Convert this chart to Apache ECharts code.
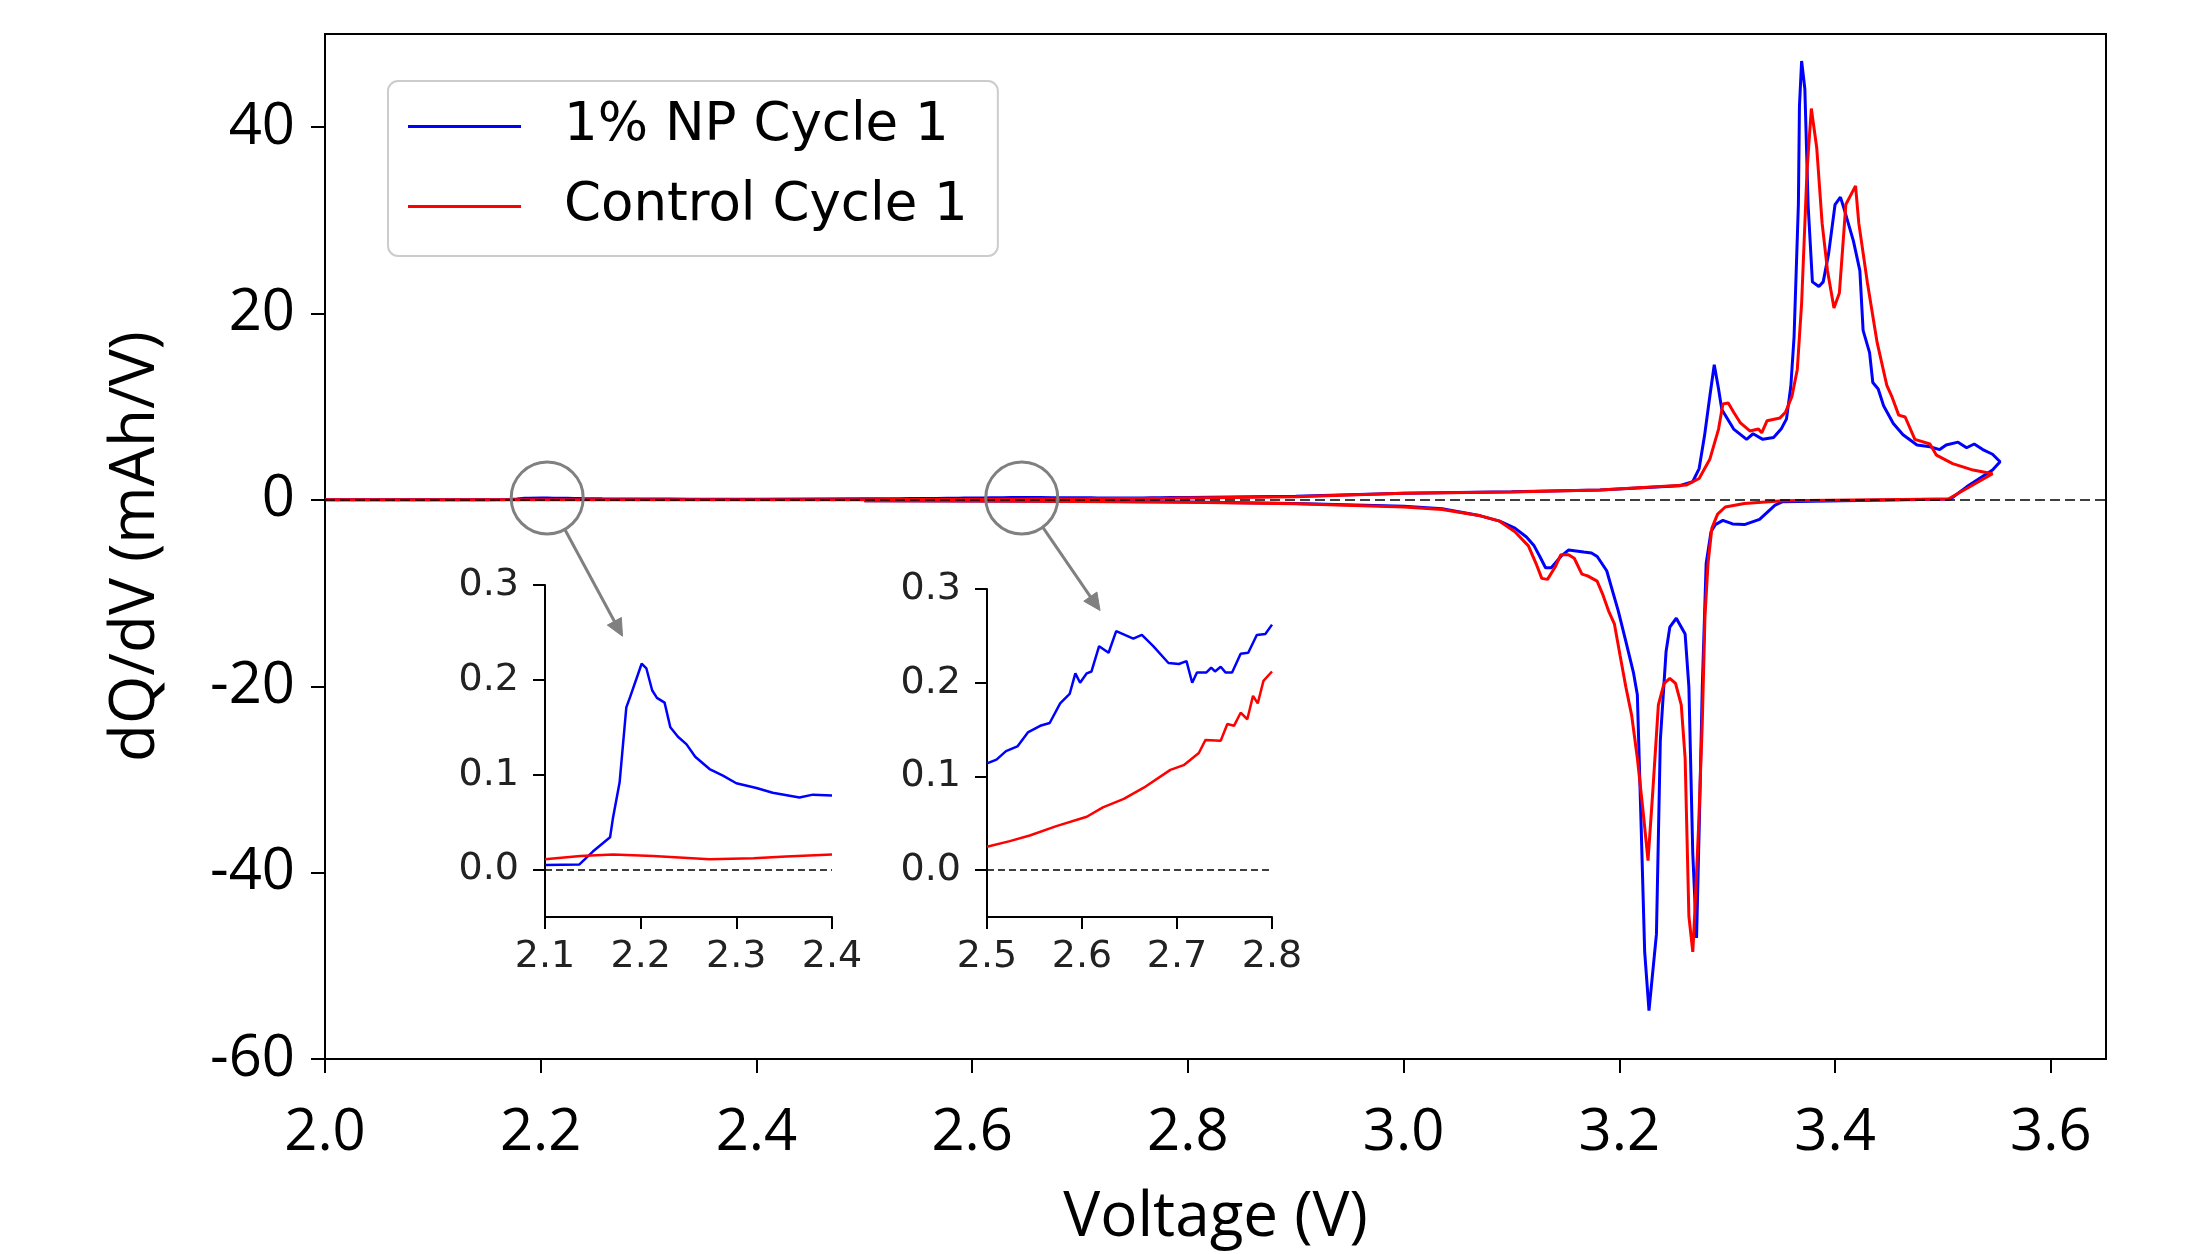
<!DOCTYPE html>
<html><head><meta charset="utf-8">
<script src="https://cdn.jsdelivr.net/npm/echarts@6/dist/echarts.min.js"></script>
<style>html,body{margin:0;padding:0;background:#fff}#c{width:2196px;height:1254px}</style>
</head><body><div id="c"></div>
<script>
// ---- tick labels ----
const xTicks = [2.0, 2.2, 2.4, 2.6, 2.8, 3.0, 3.2, 3.4, 3.6];
const yTicks = [-60, -40, -20, 0, 20, 40];
const insetAXTicks = [2.1, 2.2, 2.3, 2.4];
const insetBXTicks = [2.5, 2.6, 2.7, 2.8];
const insetYTicks = [0.0, 0.1, 0.2, 0.3];
const seriesNames = ['1% NP Cycle 1', 'Control Cycle 1'];

// ---- 1% NP, charge branch ----
const npChargeStart = [[2.0, 0.004]];
const npInsetA = [[2.100,0.0047],[2.136,0.0054],[2.150,0.019],[2.168,0.034],[2.171,0.054],[2.178,0.092],[2.185,0.171],[2.189,0.182],[2.201,0.217],[2.206,0.212],[2.212,0.189],[2.217,0.181],[2.225,0.176],[2.231,0.150],[2.239,0.140],[2.248,0.132],[2.257,0.119],[2.272,0.106],[2.286,0.099],[2.300,0.091],[2.321,0.086],[2.338,0.081],[2.366,0.076],[2.380,0.079],[2.400,0.078]];
const npInsetB = [[2.500,0.114],[2.510,0.118],[2.520,0.127],[2.532,0.132],[2.543,0.147],[2.556,0.154],[2.566,0.157],[2.577,0.178],[2.587,0.188],[2.593,0.210],[2.598,0.200],[2.605,0.210],[2.610,0.212],[2.618,0.239],[2.628,0.232],[2.636,0.255],[2.654,0.247],[2.663,0.251],[2.675,0.239],[2.691,0.221],[2.702,0.220],[2.710,0.223],[2.716,0.200],[2.721,0.211],[2.731,0.211],[2.736,0.216],[2.740,0.212],[2.746,0.217],[2.751,0.211],[2.758,0.211],[2.767,0.231],[2.775,0.232],[2.784,0.251],[2.793,0.252],[2.800,0.262]];
const npChargeHigh = [[2.9,0.40],[3.0,0.72],[3.1,0.88],[3.182,1.06],[3.256,1.52],[3.268,1.95],[3.274,3.36],[3.279,6.9],[3.284,11.2],[3.288,14.5],[3.292,11.9],[3.295,9.7],[3.306,7.6],[3.318,6.5],[3.324,7.1],[3.333,6.5],[3.343,6.7],[3.350,7.6],[3.355,8.7],[3.359,12.2],[3.362,17.5],[3.366,31.7],[3.367,42.3],[3.369,47.1],[3.372,44.1],[3.375,31.7],[3.379,23.4],[3.385,22.9],[3.389,23.4],[3.394,26.4],[3.400,31.7],[3.405,32.5],[3.409,31.0],[3.417,27.8],[3.423,24.6],[3.426,18.2],[3.432,15.8],[3.435,12.6],[3.440,11.9],[3.445,10.1],[3.454,8.2],[3.463,7.0],[3.476,5.9],[3.488,5.7],[3.497,5.4],[3.503,5.9],[3.514,6.2],[3.522,5.6],[3.529,6.0],[3.537,5.4],[3.546,4.9],[3.553,4.1],[3.546,3.2],[3.522,1.4],[3.507,0.1]];
// ---- 1% NP, discharge branch ----
const npDischarge = [[3.3515,-0.19],[3.3444,-0.57],[3.330,-2.09],[3.316,-2.65],[3.305,-2.58],[3.296,-2.2],[3.289,-2.65],[3.285,-3.41],[3.2805,-6.83],[3.2769,-20.1],[3.2741,-35.0],[3.2716,-47.0],[3.2681,-38.0],[3.2645,-20.1],[3.261,-14.4],[3.2528,-12.7],[3.2468,-13.65],[3.2433,-16.3],[3.238,-25.8],[3.2344,-46.6],[3.2275,-54.8],[3.2235,-48.5],[3.2203,-35.3],[3.2167,-20.9],[3.2132,-18.6],[3.2061,-15.2],[3.199,-11.9],[3.1883,-7.6],[3.1795,-6.07],[3.1742,-5.69],[3.167,-5.6],[3.1617,-5.5],[3.1528,-5.38],[3.1458,-6.07],[3.1369,-7.28],[3.1316,-7.28],[3.1263,-6.07],[3.121,-4.93],[3.1139,-3.98],[3.1032,-3.03],[3.089,-2.28],[3.0713,-1.71],[3.0358,-0.95],[3.0003,-0.68],[2.9,-0.38],[2.8,-0.22],[2.7,-0.15],[2.6,-0.12],[2.5,-0.10]];

// ---- Control, charge branch ----
const ctlChargeStart = [[2.0, 0.010]];
const ctlInsetA = [[2.100,0.011],[2.137,0.0144],[2.171,0.016],[2.213,0.0144],[2.272,0.011],[2.318,0.012],[2.352,0.0137],[2.400,0.016]];
const ctlInsetB = [[2.500,0.025],[2.524,0.031],[2.545,0.037],[2.573,0.047],[2.605,0.057],[2.622,0.067],[2.644,0.076],[2.665,0.088],[2.693,0.107],[2.707,0.112],[2.723,0.125],[2.730,0.139],[2.746,0.138],[2.753,0.156],[2.760,0.154],[2.767,0.168],[2.774,0.161],[2.780,0.186],[2.785,0.178],[2.791,0.202],[2.800,0.212]];
const ctlChargeHigh = [[2.9,0.35],[3.0,0.72],[3.1,0.85],[3.182,1.06],[3.262,1.59],[3.274,2.3],[3.284,4.4],[3.292,7.6],[3.296,10.3],[3.301,10.4],[3.306,9.4],[3.312,8.3],[3.321,7.4],[3.329,7.6],[3.332,7.2],[3.337,8.5],[3.349,8.8],[3.354,9.4],[3.360,11.1],[3.365,14.0],[3.369,21.1],[3.374,35.3],[3.378,42.0],[3.383,37.8],[3.388,29.7],[3.393,24.6],[3.399,20.6],[3.404,22.2],[3.410,31.7],[3.419,33.7],[3.422,29.7],[3.430,23.3],[3.439,16.9],[3.448,12.3],[3.453,11.0],[3.459,9.1],[3.465,8.9],[3.474,6.5],[3.488,6.0],[3.494,4.8],[3.509,3.9],[3.528,3.2],[3.546,2.8],[3.505,0.1]];
// ---- Control, discharge branch ----
const ctlDischarge = [[3.3515,-0.08],[3.3159,-0.38],[3.2982,-0.76],[3.2911,-1.52],[3.2858,-3.03],[3.2822,-6.83],[3.2794,-12.5],[3.2769,-23.9],[3.2734,-35.3],[3.2698,-44.7],[3.2681,-48.5],[3.2645,-44.7],[3.261,-27.7],[3.2574,-22.0],[3.2521,-19.7],[3.2468,-19.15],[3.2415,-19.7],[3.2362,-22.0],[3.2309,-31.5],[3.2266,-38.7],[3.222,-33.4],[3.2167,-27.7],[3.2114,-23.1],[3.2061,-20.1],[3.2007,-16.7],[3.1954,-13.3],[3.19,-11.9],[3.1848,-10.2],[3.1794,-8.72],[3.1706,-8.15],[3.1653,-7.96],[3.1582,-6.26],[3.1529,-5.88],[3.1458,-5.88],[3.1405,-7.2],[3.1334,-8.53],[3.1281,-8.42],[3.1228,-6.83],[3.1157,-4.93],[3.1032,-3.41],[3.089,-2.28],[3.0713,-1.71],[3.0358,-1.02],[3.0003,-0.76],[2.9,-0.42],[2.8,-0.24],[2.7,-0.16],[2.6,-0.12],[2.5,-0.10]];

// circled regions (data coords in main axes) and arrow tips (data coords in insets)
const zoomCentres = [[2.206, 0], [2.646, 0]];
const arrowTips = [[2.181, 0.246], [2.619, 0.277]];

const npMain = [].concat(npChargeStart, npInsetA, npInsetB, npChargeHigh, npDischarge);
const ctlMain = [].concat(ctlChargeStart, ctlInsetA, ctlInsetB, ctlChargeHigh, ctlDischarge);

const BLUE = '#0000ff', RED = '#ff0000';
const mainFont = 'Open Sans';
const smallFont = 'DejaVu Sans';

function zeroLine(width, dash) {
  return { silent: true, symbol: 'none', label: { show: false },
    lineStyle: { color: '#000', width: width, type: dash }, data: [{ yAxis: 0 }] };
}
function insetX(idx, ticks, min, max) {
  return { type: 'value', gridIndex: idx, min: min, max: max,
    axisLine: { show: true, onZero: false, lineStyle: { color: '#000', width: 2 } },
    axisTick: { show: true, length: 12, customValues: ticks, lineStyle: { color: '#000', width: 2 } },
    axisLabel: { customValues: ticks, margin: 21, fontFamily: smallFont, fontSize: 38, color: '#222',
      formatter: v => v.toFixed(1) },
    splitLine: { show: false } };
}
function insetY(idx) {
  return { type: 'value', gridIndex: idx, min: -0.05, max: 0.3,
    axisLine: { show: true, onZero: false, lineStyle: { color: '#000', width: 2 } },
    axisTick: { show: true, length: 12, customValues: insetYTicks, lineStyle: { color: '#000', width: 2 } },
    axisLabel: { customValues: insetYTicks, margin: 26, fontFamily: smallFont, fontSize: 38, color: '#222',
      formatter: v => v.toFixed(1) },
    splitLine: { show: false } };
}

const chart = echarts.init(document.getElementById('c'), null, { renderer: 'canvas' });
chart.setOption({
  animation: false,
  backgroundColor: '#fff',
  grid: [
    { left: 325, top: 34, right: 90, bottom: 183, show: true, borderColor: '#000', borderWidth: 2 },
    { left: 545, top: 585, width: 287, height: 332 },
    { left: 987, top: 589, width: 285, height: 328 }
  ],
  legend: {
    data: seriesNames, left: 388, top: 81, orient: 'vertical',
    padding: [13, 30, 17, 20], itemGap: 15, itemWidth: 113, itemHeight: 3, icon: 'rect',
    backgroundColor: 'rgba(255,255,255,0.85)', borderColor: '#cccccc', borderWidth: 2, borderRadius: 10,
    textStyle: { fontFamily: smallFont, fontSize: 53, color: '#000', lineHeight: 53, padding: [12, 0, 0, 38] }
  },
  xAxis: [
    { type: 'value', gridIndex: 0, min: 2.0, max: 3.6512,
      name: 'Voltage (V)', nameLocation: 'middle', nameGap: 128,
      nameTextStyle: { fontFamily: mainFont, fontSize: 62, color: '#000' },
      axisLine: { show: true, onZero: false, lineStyle: { color: '#000', width: 2 } },
      axisTick: { show: true, length: 14, customValues: xTicks, lineStyle: { color: '#000', width: 2 } },
      axisLabel: { customValues: xTicks, margin: 45, fontFamily: mainFont, fontSize: 58, color: '#000',
        formatter: v => v.toFixed(1) },
      splitLine: { show: false } },
    insetX(1, insetAXTicks, 2.1, 2.4),
    insetX(2, insetBXTicks, 2.5, 2.8)
  ],
  yAxis: [
    { type: 'value', gridIndex: 0, min: -60, max: 50,
      name: 'dQ/dV (mAh/V)', nameLocation: 'middle', nameGap: 158, nameRotate: 90,
      nameTextStyle: { fontFamily: mainFont, fontSize: 62, color: '#000' },
      axisLine: { show: true, onZero: false, lineStyle: { color: '#000', width: 2 } },
      axisTick: { show: true, length: 14, customValues: yTicks, lineStyle: { color: '#000', width: 2 } },
      axisLabel: { customValues: yTicks, margin: 30, fontFamily: mainFont, fontSize: 58, color: '#000',
        formatter: v => String(v) },
      splitLine: { show: false } },
    insetY(1),
    insetY(2)
  ],
  series: [
    { name: seriesNames[0], type: 'line', xAxisIndex: 0, yAxisIndex: 0, data: npMain,
      showSymbol: false, symbol: 'none', color: BLUE, lineStyle: { color: BLUE, width: 3 }, z: 2 },
    { name: seriesNames[1], type: 'line', xAxisIndex: 0, yAxisIndex: 0, data: ctlMain,
      showSymbol: false, symbol: 'none', color: RED, lineStyle: { color: RED, width: 3 }, z: 3,
      markLine: zeroLine(1.6, [10, 5]) },
    { name: seriesNames[0], type: 'line', xAxisIndex: 1, yAxisIndex: 1, data: npInsetA,
      showSymbol: false, symbol: 'none', color: BLUE, lineStyle: { color: BLUE, width: 2.5 }, z: 2 },
    { name: seriesNames[1], type: 'line', xAxisIndex: 1, yAxisIndex: 1, data: ctlInsetA,
      showSymbol: false, symbol: 'none', color: RED, lineStyle: { color: RED, width: 2.5 }, z: 3,
      markLine: zeroLine(1.6, [7, 4]) },
    { name: seriesNames[0], type: 'line', xAxisIndex: 2, yAxisIndex: 2, data: npInsetB,
      showSymbol: false, symbol: 'none', color: BLUE, lineStyle: { color: BLUE, width: 2.5 }, z: 2 },
    { name: seriesNames[1], type: 'line', xAxisIndex: 2, yAxisIndex: 2, data: ctlInsetB,
      showSymbol: false, symbol: 'none', color: RED, lineStyle: { color: RED, width: 2.5 }, z: 3,
      markLine: zeroLine(1.6, [7, 4]) }
  ]
});

// annotation circles + arrows, placed through the axes' own scales
const GREY = '#808080';
const graphics = [];
zoomCentres.forEach((c, i) => {
  const p = chart.convertToPixel({ xAxisIndex: 0, yAxisIndex: 0 }, c);
  const t = chart.convertToPixel({ xAxisIndex: i + 1, yAxisIndex: i + 1 }, arrowTips[i]);
  const cx = p[0], cy = p[1] - 2;
  graphics.push({ type: 'circle', shape: { cx: cx, cy: cy, r: 36 }, z: 20,
    style: { fill: 'none', stroke: GREY, lineWidth: 3 } });
  const dx = t[0] - cx, dy = t[1] - cy, L = Math.hypot(dx, dy);
  const ux = dx / L, uy = dy / L;
  const sx = cx + ux * 37, sy = cy + uy * 36;
  const head = 17, hw = 8;
  const bx = t[0] - ux * head, by = t[1] - uy * head;
  graphics.push({ type: 'line', shape: { x1: sx, y1: sy, x2: bx, y2: by }, z: 20,
    style: { stroke: GREY, lineWidth: 3 } });
  graphics.push({ type: 'polygon', z: 20,
    shape: { points: [[t[0], t[1]], [bx - uy * hw, by + ux * hw], [bx + uy * hw, by - ux * hw]] },
    style: { fill: GREY, stroke: GREY, lineWidth: 1 } });
});
chart.setOption({ graphic: graphics });
</script>
</body></html>
